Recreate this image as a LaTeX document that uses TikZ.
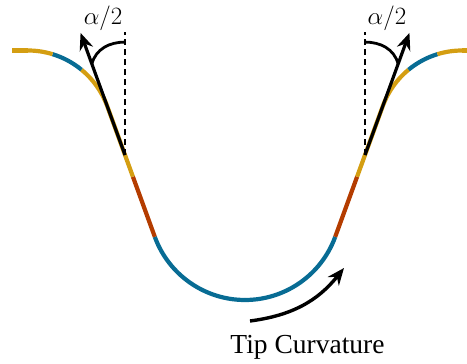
\documentclass[tikz,border=0pt]{standalone}
\usepackage{fontspec}
\setmainfont{Liberation Serif}
\usepackage{amsmath}
\usetikzlibrary{arrows.meta,calc}

\definecolor{tipyellow}{RGB}{212,158,18}
\definecolor{tipred}{RGB}{180,60,0}
\definecolor{tipblue}{RGB}{8,108,148}

\begin{document}
\begin{tikzpicture}[
  x=1pt, y=1pt, >={Stealth[length=17pt,width=14pt]},
  profile/.style={line width=4.2pt},
  tangent/.style={->,line width=3.2pt},
  vert/.style={line width=2.8pt,dash pattern=on 6pt off 4pt},
  angarc/.style={line width=2.8pt},
  lbl/.style={inner sep=0pt,font=\fontsize{27.5}{31}\selectfont},
  anglbl/.style={inner sep=0pt,font=\fontsize{30}{34}\selectfont}
]
\useasboundingbox (0,0) rectangle (467,364);
% both flanks of the tip, mirrored about the apex
\foreach \s in {1,-1}{
\begin{scope}[shift={(245,64)},xscale=\s]
  \coordinate (apex) at (0,0);
  \draw[profile,tipblue] (apex) arc[start angle=270,end angle=200,radius=96] coordinate (b);
  \draw[profile,tipred] (b) -- ++(110:64) coordinate (r);
  \draw[profile,tipyellow] (r) -- ++(110:75.2) coordinate (t);
  \draw[profile,tipyellow] (t) arc[start angle=20,end angle=50.6,radius=84.4] coordinate (f1);
  \draw[profile,tipblue] (f1) arc[start angle=50.6,end angle=73,radius=84.4] coordinate (f2);
  \draw[profile,tipyellow] (f2) arc[start angle=73,end angle=90,radius=84.4] coordinate (top);
  \draw[profile,tipyellow] (top) -- ++(-16,0) coordinate (rim);
  % half angle
  \path (b) ++(110:87) coordinate (s);
  \path (s) ++(110:130) coordinate (tl);
  \path (s) ++(0,123) coordinate (v);
  \path (s) ++(0,113) coordinate (va);
  \path (s) ++(110:97) coordinate (ta);
  \draw[vert] (s) -- (v);
  \draw[tangent] (s) -- (tl);
  \draw[angarc] (va) to[out=180,in=75] (ta);
  \node[anglbl] (half) at ($(s)+(-22,137)$) {$\alpha/2$};
\end{scope}
}
% curvature at the apex
\coordinate (ct) at (250,43);
\coordinate (ch) at (344,96);
\draw[->,line width=3.4pt] (ct) to[bend right=22] (ch);
\node[lbl,anchor=base] (curv) at (307.5,10.7) {Tip Curvature};
\end{tikzpicture}
\end{document}
